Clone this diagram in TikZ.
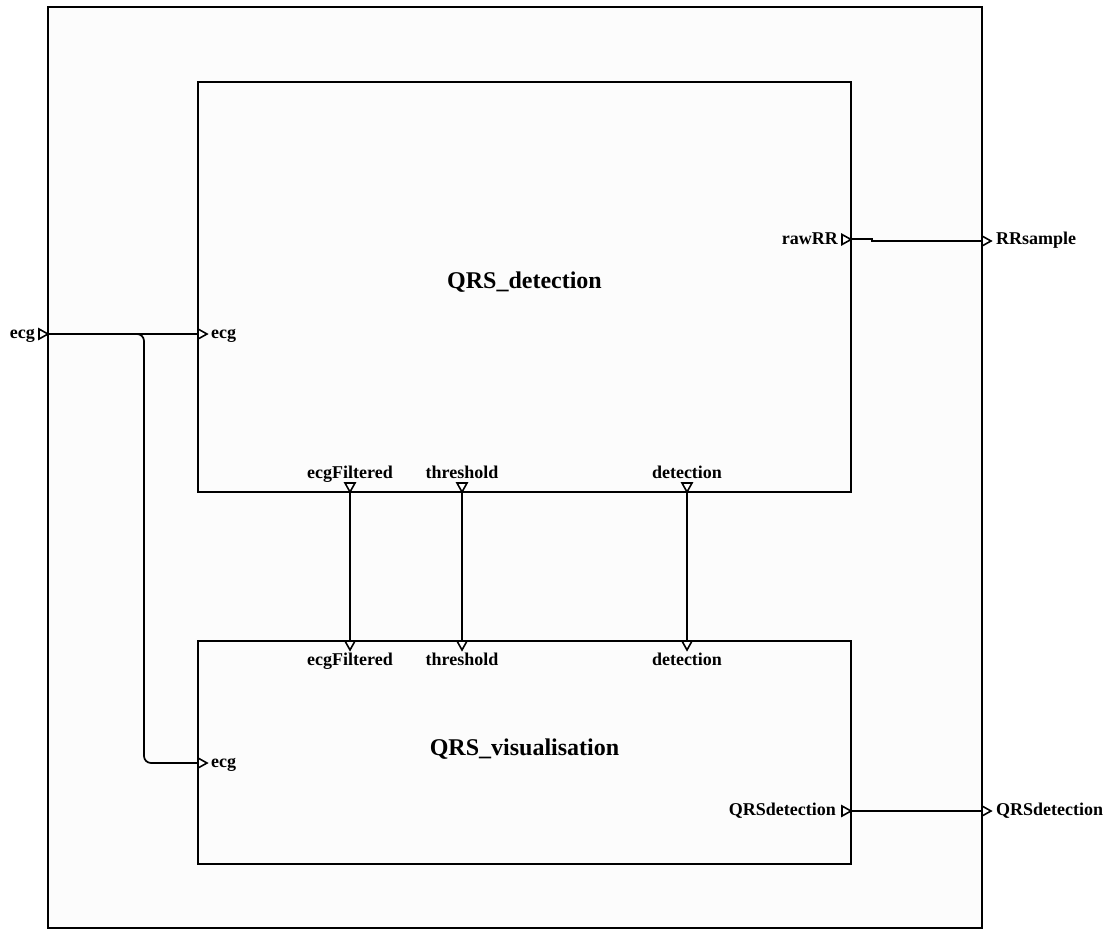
\documentclass[tikz,border=0pt]{standalone}
\usepackage{fontspec}
\setmainfont{Liberation Serif}
\begin{document}
\begin{tikzpicture}[x=1pt,y=-1pt,
  blk/.style={draw=black,line width=1.8pt,fill=boxfill,inner sep=0pt},
  wire/.style={draw=black,line width=1.7pt},
  lbl/.style={font=\fontsize{18}{18}\selectfont\bfseries,inner sep=0pt},
  ttl/.style={font=\fontsize{24}{24}\selectfont\bfseries,inner sep=0pt,anchor=base},
  portR/.pic={\draw[line width=1.6pt,fill=white,line join=miter] (0,5pt) -- (9pt,0) -- (0,-5pt) -- cycle;},
  portD/.pic={\draw[line width=1.6pt,fill=white,line join=miter] (-5pt,0) -- (5pt,0) -- (0,-9pt) -- cycle;}]
\definecolor{boxfill}{HTML}{FCFCFC}
\useasboundingbox (0,0) rectangle (1110,936);
\fill[white] (0,0) rectangle (1110,936);
% outer block
\draw[blk] (48,7) rectangle (982,928);
% inner blocks
\draw[blk] (198,82) rectangle (851,492);
\draw[blk] (198,641) rectangle (851,864);
\node[ttl] (tq) at (524.5,288) {QRS\_detection};
\node[ttl] (tv) at (524.5,755) {QRS\_visualisation};
% port coordinates
\coordinate (oecg) at (48,334);
\coordinate (decg) at (198,334);
\coordinate (vecg) at (198,763);
\coordinate (br) at (136,334);
\coordinate (bend) at (144,334);
\coordinate (rawrr) at (851,239);
\coordinate (jog1) at (872,239);
\coordinate (jog2) at (872,241);
\coordinate (rrs) at (982,241);
\coordinate (vqrs) at (851,811);
\coordinate (oqrs) at (982,811);
\coordinate (dF) at (350,492);
\coordinate (dT) at (462,492);
\coordinate (dD) at (687,492);
\coordinate (vF) at (350,641);
\coordinate (vT) at (462,641);
\coordinate (vD) at (687,641);
% wires
\draw[wire] (oecg) -- (decg);
\draw[wire,rounded corners=7pt] (br) -- (bend) |- (vecg);
\draw[wire] (rawrr) -- (jog1) -- (jog2) -- (rrs);
\draw[wire] (vqrs) -- (oqrs);
\draw[wire] (dF) -- (vF);
\draw[wire] (dT) -- (vT);
\draw[wire] (dD) -- (vD);
% port triangles
\pic at (39,334) {portR};
\pic at (198,334) {portR};
\pic at (198,763) {portR};
\pic at (842,239.5) {portR};
\pic at (982,241) {portR};
\pic at (842,811) {portR};
\pic at (982,811) {portR};
\pic at (350,483) {portD};
\pic at (462,483) {portD};
\pic at (687,483) {portD};
\pic at (350,641) {portD};
\pic at (462,641) {portD};
\pic at (687,641) {portD};
% labels
\node[lbl,anchor=base east] (l1) at (35,338) {ecg};
\node[lbl,anchor=base west] (l2) at (211,338) {ecg};
\node[lbl,anchor=base west] (l3) at (211,767) {ecg};
\node[lbl,anchor=base east] (l4) at (838,244) {rawRR};
\node[lbl,anchor=base west] (l5) at (996,244) {RRsample};
\node[lbl,anchor=base east] (l6) at (836,815) {QRSdetection};
\node[lbl,anchor=base west] (l7) at (996,815) {QRSdetection};
\node[lbl,anchor=base] (l8) at (350,478) {ecgFiltered};
\node[lbl,anchor=base] (l9) at (462,478) {threshold};
\node[lbl,anchor=base] (l10) at (687,478) {detection};
\node[lbl,anchor=base] (l11) at (350,665) {ecgFiltered};
\node[lbl,anchor=base] (l12) at (462,665) {threshold};
\node[lbl,anchor=base] (l13) at (687,665) {detection};
\end{tikzpicture}
\end{document}
